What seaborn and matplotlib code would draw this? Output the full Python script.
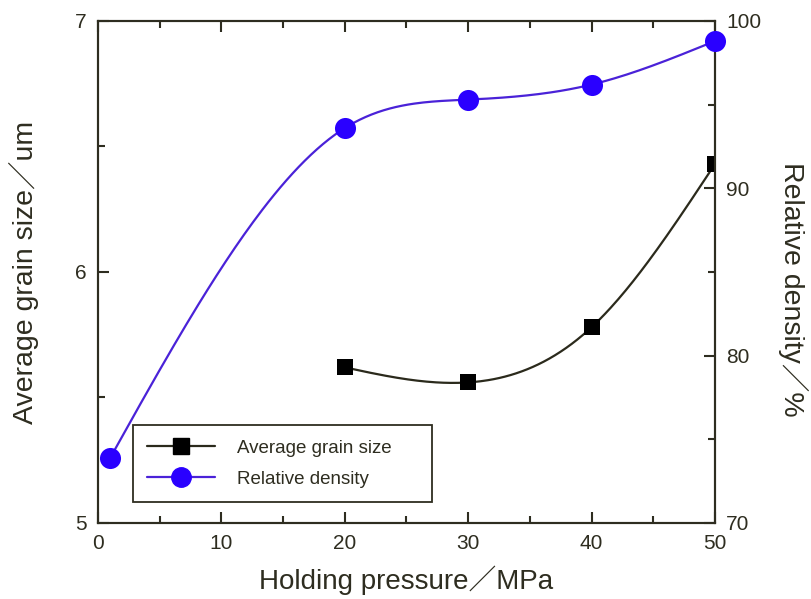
import numpy as np
import pandas as pd
import matplotlib
matplotlib.use("Agg")
import matplotlib.pyplot as plt
from matplotlib.lines import Line2D
from matplotlib.ticker import MultipleLocator
import seaborn as sns

# ---- data ----
grain_x = [20, 30, 40, 50]
grain_size = [5.62, 5.56, 5.78, 6.43]
dens_x = [1, 20, 30, 40, 50]
density = [73.9, 93.6, 95.3, 96.2, 98.8]

x_label = "Holding pressure／MPa"
yl_label = "Average grain size／um"
yr_label = "Relative density／%"
legend_labels = ["Average grain size", "Relative density"]


def natural_spline(x, y, n=200):
    x = np.asarray(x, float); y = np.asarray(y, float)
    k = len(x); h = np.diff(x)
    A = np.zeros((k, k)); b = np.zeros(k)
    A[0, 0] = 1; A[-1, -1] = 1
    for i in range(1, k - 1):
        A[i, i - 1] = h[i - 1]; A[i, i] = 2 * (h[i - 1] + h[i]); A[i, i + 1] = h[i]
        b[i] = 3 * ((y[i + 1] - y[i]) / h[i] - (y[i] - y[i - 1]) / h[i - 1])
    c = np.linalg.solve(A, b)
    xs = np.linspace(x[0], x[-1], n); ys = np.empty_like(xs)
    for j, xv in enumerate(xs):
        i = min(np.searchsorted(x, xv, side="right") - 1, k - 2)
        bb = (y[i + 1] - y[i]) / h[i] - h[i] * (2 * c[i] + c[i + 1]) / 3
        d = (c[i + 1] - c[i]) / (3 * h[i]); t = xv - x[i]
        ys[j] = y[i] + bb * t + c[i] * t ** 2 + d * t ** 3
    return xs, ys


sns.set_theme(style="white")
plt.rcParams["font.family"] = ["Liberation Sans", "Noto Sans CJK SC", "DejaVu Sans"]
ink = "#2e2d20"
plt.rcParams.update({"text.color": ink, "axes.labelcolor": ink,
                     "xtick.color": ink, "ytick.color": ink, "axes.edgecolor": ink})

fig = plt.figure(figsize=(8.11, 5.99), dpi=100)
ax = fig.add_axes([0.1208, 0.1269, 0.7608, 0.8381])
ax2 = ax.twinx()

gcol = "#2b2a1c"
bline = "#4a22d8"
bmark = "#2a00ff"

gx, gy = natural_spline(grain_x, grain_size)
dx, dy = natural_spline(dens_x, density)

sns.lineplot(x=gx, y=gy, ax=ax, color=gcol, lw=1.6, sort=False)
sns.scatterplot(x=grain_x, y=grain_size, ax=ax, marker="s", s=130, color="black",
                edgecolor="black", linewidth=0, zorder=5)
sns.lineplot(x=dx, y=dy, ax=ax2, color=bline, lw=1.6, sort=False)
sns.scatterplot(x=dens_x, y=density, ax=ax2, marker="o", s=230, color=bmark,
                edgecolor=bmark, linewidth=0, zorder=5, clip_on=False)

ax.set_xlim(0, 50)
ax.set_ylim(5, 7)
ax2.set_ylim(70, 100)
ax.xaxis.set_major_locator(MultipleLocator(10))
ax.xaxis.set_minor_locator(MultipleLocator(5))
ax.yaxis.set_major_locator(MultipleLocator(1))
ax.yaxis.set_minor_locator(MultipleLocator(0.5))
ax2.yaxis.set_major_locator(MultipleLocator(10))
ax2.yaxis.set_minor_locator(MultipleLocator(5))

for a in (ax, ax2):
    for s in a.spines.values():
        s.set_linewidth(1.5)
        s.set_color(ink)
ax.tick_params(axis="x", which="both", direction="in", top=True, bottom=True, labelsize=15, pad=8)
ax.tick_params(axis="y", which="both", direction="in", left=True, right=False, labelsize=15, pad=8)
ax.tick_params(which="major", length=8, width=1.5)
ax.tick_params(which="minor", length=5, width=1.5)
ax2.tick_params(axis="y", which="both", direction="in", right=True, left=False, labelsize=15, pad=8)
ax2.tick_params(which="major", length=8, width=1.5)
ax2.tick_params(which="minor", length=5, width=1.5)

ax.set_xlabel(x_label, fontsize=20, labelpad=9)
ax.set_ylabel(yl_label, fontsize=20.5, labelpad=26)
ax2.set_ylabel(yr_label, fontsize=20.5, rotation=270, labelpad=34)
ax2.yaxis.label.set_y(0.465)

handles = [
    Line2D([], [], color=gcol, lw=1.6, marker="s", markersize=11.5, markerfacecolor="black",
           markeredgecolor="black"),
    Line2D([], [], color=bline, lw=1.6, marker="o", markersize=14, markerfacecolor=bmark,
           markeredgecolor=bmark),
]
leg = ax2.legend(handles, legend_labels, loc="lower left",
                 bbox_to_anchor=(0.057, 0.042, 0.485, 0.165), mode="expand",
                 borderaxespad=0, fontsize=13.5, frameon=True, fancybox=False,
                 handlelength=3.6, handletextpad=1.2, labelspacing=0.75,
                 borderpad=0.75)
leg.get_frame().set_edgecolor(ink)
leg.get_frame().set_linewidth(1.3)
leg.get_frame().set_facecolor("white")
leg.get_frame().set_alpha(1)
leg.set_zorder(10)

fig.savefig("out.png", dpi=100)
